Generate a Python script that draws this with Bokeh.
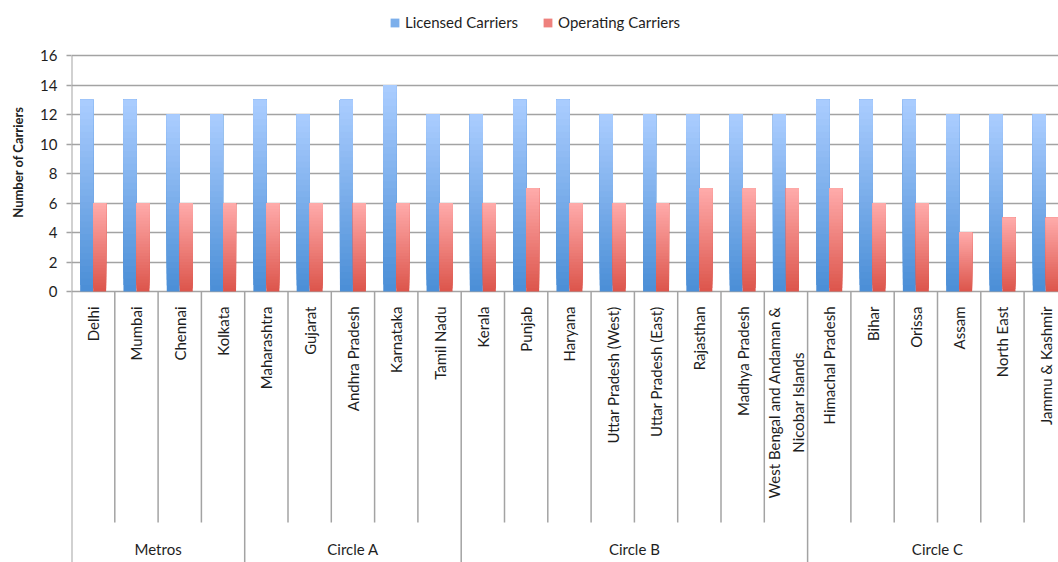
import math

from bokeh.core.properties import value
from bokeh.embed import file_html
from bokeh.models import FixedTicker, Legend, LegendItem, Range1d, Title
from bokeh.plotting import figure
from bokeh.resources import INLINE

# ---- data -------------------------------------------------------------
groups = ["Metros", "Circle A", "Circle B", "Circle C"]
group_sizes = [4, 5, 8, 6]

regions = [
    "Delhi", "Mumbai", "Chennai", "Kolkata",
    "Maharashtra", "Gujarat", "Andhra Pradesh", "Karnataka", "Tamil Nadu",
    "Kerala", "Punjab", "Haryana", "Uttar Pradesh (West)", "Uttar Pradesh (East)",
    "Rajasthan", "Madhya Pradesh", "West Bengal and Andaman &\nNicobar Islands",
    "Himachal Pradesh", "Bihar", "Orissa", "Assam", "North East", "Jammu & Kashmir",
]
licensed = [13, 13, 12, 12, 13, 12, 13, 14, 12, 12, 13, 13, 12, 12, 12, 12, 12,
            13, 13, 13, 12, 12, 12]
operating = [6, 6, 6, 6, 6, 6, 6, 6, 6, 6, 7, 6, 6, 6, 7, 7, 7,
             7, 6, 6, 4, 5, 5]
y_ticks = [0, 2, 4, 6, 8, 10, 12, 14, 16]

# ---- layout constants -------------------------------------------------
W, H = 1058, 562
LEFT = 71                 # frame starts at the value axis
CELL = 43.3               # pixels per region
UNIT = 14.75              # pixels per carrier
ZERO_Y = 291              # pixel row of the zero line
TOP_Y = 55                # pixel row of the 16 line

FONT = value("Lato")
TEXT = "#1e1e1e"
LINE = "#a3a3a3"

y_top = max(y_ticks) + TOP_Y / UNIT
y_bottom = -(H - ZERO_Y) / UNIT

p = figure(
    width=W, height=H,
    x_range=Range1d(0, (W - LEFT) / CELL),
    y_range=Range1d(y_bottom, y_top),
    x_axis_location=None,
    output_backend="svg", toolbar_location=None,
    min_border_left=LEFT, min_border_right=0,
    min_border_top=0, min_border_bottom=0,
)
p.outline_line_color = None
p.background_fill_color = "white"
p.xgrid.visible = False
p.ygrid.grid_line_color = LINE
p.ygrid.grid_line_width = 1.5

ax = p.yaxis[0]
ax.ticker = FixedTicker(ticks=y_ticks)
ax.axis_line_color = None
ax.major_tick_in = 0
ax.major_tick_out = 5
ax.major_tick_line_color = LINE
ax.major_tick_line_width = 1.5
ax.minor_tick_line_color = None
ax.major_label_text_font = "Lato"
ax.major_label_text_font_size = "15px"
ax.major_label_text_color = TEXT
ax.major_label_standoff = 9

# value-axis title, placed beside the 0-16 span rather than the whole frame
p.add_layout(Title(
    text="Number of Carriers", align="right", vertical_align="top",
    offset=106, standoff=19,
    text_font="Lato", text_font_style="bold", text_font_size="13px",
    text_color=TEXT,
), "left")

n = len(regions)
centers = [i + 0.5 for i in range(n)]

# ---- bars with a vertical light-to-dark gradient ----------------------
def mix(c0, c1, t):
    return "#%02x%02x%02x" % tuple(round(a + (b - a) * t) for a, b in zip(c0, c1))

STEPS = 30
BAR_W = 0.3
series = [
    ("Licensed Carriers", licensed, -0.15, (0x4a, 0x8e, 0xd6), (0xab, 0xcd, 0xff)),
    ("Operating Carriers", operating, 0.15, (0xdc, 0x55, 0x4b), (0xff, 0xab, 0xab)),
]
legend_items = []
for name, vals, offset, dark, light in series:
    mid_renderer = None
    for k in range(STEPS):
        t = (k + 0.5) / STEPS
        r = p.vbar(
            x=[c + offset for c in centers], width=BAR_W,
            bottom=[v * k / STEPS for v in vals], top=vals,
            fill_color=mix(dark, light, t), line_color=None,
        )
        if k == STEPS // 2:
            mid_renderer = r
    legend_items.append(LegendItem(label=name, renderers=[mid_renderer]))

# ---- value axis line and category dividers ----------------------------
p.segment(x0=[0], y0=[max(y_ticks)], x1=[0], y1=[y_bottom],
          line_color=LINE, line_width=2)

bounds = []
acc = 0
for s in group_sizes:
    acc += s
    bounds.append(acc)
inner = [b for b in range(1, n) if b not in bounds]
div_bottom = -(522 - ZERO_Y) / UNIT
p.segment(x0=inner, y0=[0] * len(inner), x1=inner, y1=[div_bottom] * len(inner),
          line_color=LINE, line_width=1.5)
outer = [b for b in bounds if b < n]
p.segment(x0=outer, y0=[0] * len(outer), x1=outer, y1=[y_bottom] * len(outer),
          line_color=LINE, line_width=1.5)

# ---- category and group labels ----------------------------------------
label_y = -(306 - ZERO_Y) / UNIT
p.text(x=centers, y=[label_y] * n, text=regions, angle=math.pi / 2,
       anchor="center_right", text_align="center",
       text_font=FONT, text_font_size="15px", text_color=TEXT,
       text_line_height=1.35)

starts = [0] + bounds[:-1]
group_x = [(a + b) / 2 for a, b in zip(starts, bounds)]
group_y = -(548 - ZERO_Y) / UNIT
p.text(x=group_x, y=[group_y] * len(groups), text=groups,
       text_align="center", text_baseline="middle",
       text_font=FONT, text_font_size="15px", text_color=TEXT)

# ---- legend -----------------------------------------------------------
legend = Legend(
    items=legend_items, orientation="horizontal",
    location=(389 - LEFT, H - 31),
    glyph_width=11, glyph_height=11, label_standoff=5, spacing=24,
    padding=0, margin=0, border_line_color=None, background_fill_alpha=0,
    label_text_font="Lato", label_text_font_size="15px", label_text_color=TEXT,
)
p.add_layout(legend)

open("out.html", "w").write(file_html(p, INLINE))
